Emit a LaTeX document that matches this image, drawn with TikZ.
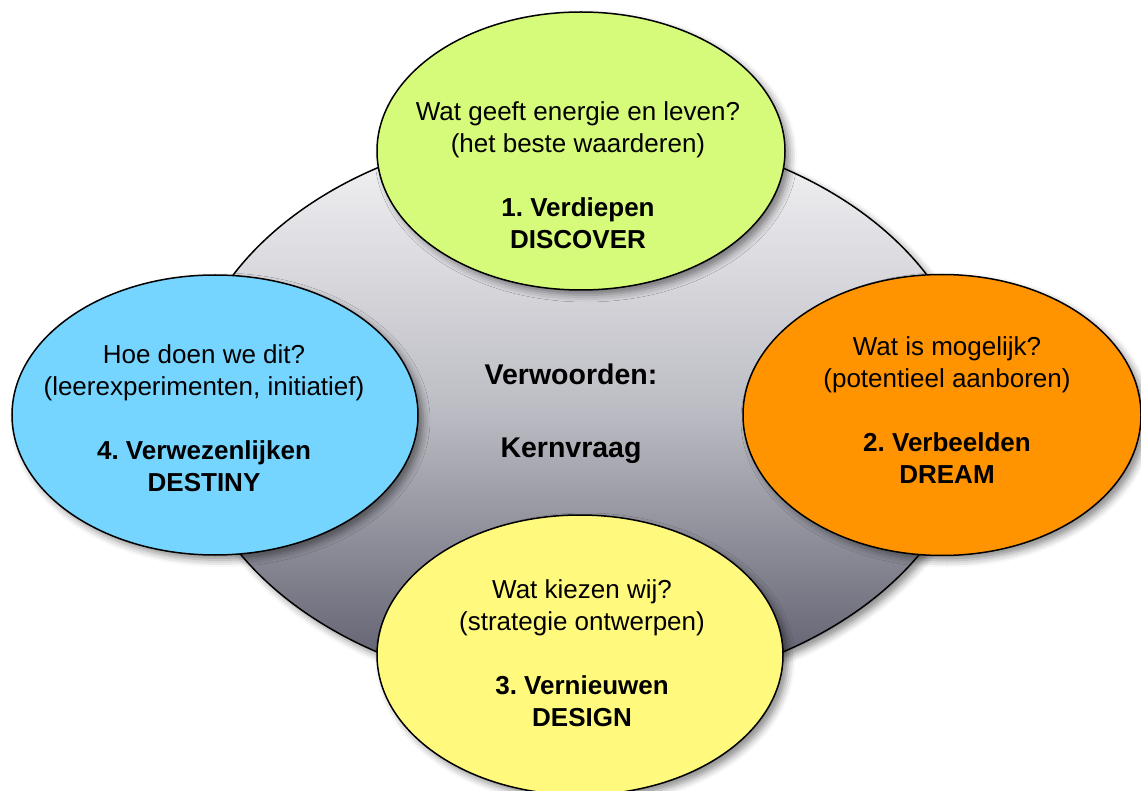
\documentclass[tikz,border=0pt]{standalone}
\usepackage{fontspec}
\setmainfont{Liberation Sans}
\frenchspacing
\usetikzlibrary{shapes.geometric,shadows.blur}
\definecolor{cgreen}{RGB}{214,250,122}
\definecolor{corange}{RGB}{255,147,0}
\definecolor{cblue}{RGB}{117,213,255}
\definecolor{cyellow}{RGB}{255,250,125}
\definecolor{gtop}{RGB}{246,246,248}
\definecolor{gmid}{RGB}{188,188,196}
\definecolor{gbot}{RGB}{88,88,104}
\tikzset{
  blob/.style={ellipse, draw=black, line width=1.5pt, inner sep=0pt,
    blur shadow={shadow xshift=5pt, shadow yshift=-5pt, shadow blur radius=7pt, shadow opacity=45}},
  lbl/.style={align=center, inner sep=0pt, font=\fontsize{26}{32}\selectfont},
  clbl/.style={inner sep=0pt, font=\fontsize{28.5}{32}\selectfont\bfseries}
}
\begin{document}
\begin{tikzpicture}[x=1pt,y=-1pt]
\useasboundingbox (0,0) rectangle (1141,791);
\node[blob, minimum width=790pt, minimum height=564pt,
  top color=gtop, bottom color=gbot, middle color=gmid] (core) at (580,410) {};
\node[blob, fill=cgreen, minimum width=408pt, minimum height=278pt] (disc) at (581,151) {};
\node[blob, fill=cblue, minimum width=406pt, minimum height=280pt] (dest) at (215,415) {};
\node[blob, fill=corange, minimum width=398pt, minimum height=281pt] (dream) at (942,415) {};
\node[blob, fill=cyellow, minimum width=406pt, minimum height=280pt] (design) at (580,655) {};
\node[lbl] (tdisc) at (578,175) {Wat geeft energie en leven?\\(het beste waarderen)\\[32pt]\textbf{1. Verdiepen}\\\textbf{DISCOVER}};
\node[lbl] (tdream) at (947,410) {Wat is mogelijk?\\(potentieel aanboren)\\[32pt]\textbf{2. Verbeelden}\\\textbf{DREAM}};
\node[lbl] (tdesign) at (582,653) {Wat kiezen wij?\\(strategie ontwerpen)\\[32pt]\textbf{3. Vernieuwen}\\\textbf{DESIGN}};
\node[lbl] (tdest) at (204,418) {Hoe doen we dit?\\(leerexperimenten, initiatief)\\[32pt]\textbf{4. Verwezenlijken}\\\textbf{DESTINY}};
\node[clbl, anchor=base] (t1) at (571,385) {Verwoorden:};
\node[clbl, anchor=base] (t2) at (571,458) {Kernvraag};
\end{tikzpicture}
\end{document}
